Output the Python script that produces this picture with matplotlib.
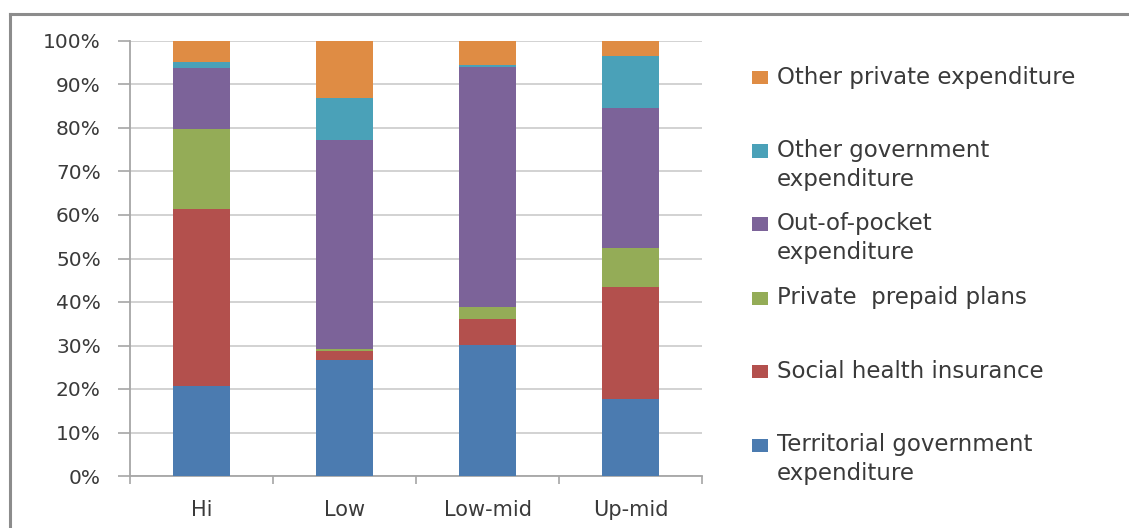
import matplotlib
matplotlib.use("Agg")
import matplotlib.pyplot as plt
from matplotlib.patches import Rectangle
from matplotlib.lines import Line2D
import numpy as np

categories = ["Hi", "Low", "Low-mid", "Up-mid"]
series_names = [
    "Territorial government\nexpenditure",
    "Social health insurance",
    "Private  prepaid plans",
    "Out-of-pocket\nexpenditure",
    "Other government\nexpenditure",
    "Other private expenditure",
]
territorial = [20.8, 26.7, 30.1, 17.8]
social = [40.6, 2.0, 6.1, 25.6]
private_prepaid = [18.4, 0.5, 2.7, 9.1]
out_of_pocket = [14.1, 48.0, 55.1, 32.0]
other_gov = [1.2, 9.6, 0.5, 12.1]
other_private = [4.9, 13.2, 5.5, 3.4]
yticks = [0, 10, 20, 30, 40, 50, 60, 70, 80, 90, 100]

series = [territorial, social, private_prepaid, out_of_pocket, other_gov, other_private]
colors = ["#4b7bb0", "#b3504d", "#94ac57", "#7c6399", "#4aa1b8", "#df8c44"]

plt.rcParams['font.family'] = ['DejaVu Sans']
text_color = "#3a3a3a"

fig = plt.figure(figsize=(11.29, 5.28), dpi=100)
ax = fig.add_axes([130/1129, 1-476/528, (702-130)/1129, (476-41)/528])

x = np.arange(len(categories))
bottom = np.zeros(len(categories))
for vals, c in zip(series, colors):
    vals = np.array(vals)
    ax.bar(x, vals, width=0.4, bottom=bottom, color=c, zorder=3, linewidth=0)
    bottom += vals

ax.set_xlim(-0.5, len(categories) - 0.5)
ax.set_ylim(0, 100)
ax.set_yticks(yticks)
ax.set_yticklabels([f"{v}%" for v in yticks], fontsize=14.5, color=text_color)
ax.yaxis.grid(True, color="#cfcfcf", linewidth=1.3, zorder=0)
ax.set_axisbelow(True)

ax.set_xticks(x)
ax.set_xticklabels(categories, fontsize=15, color=text_color)
ax.set_xticks(np.arange(-0.5, len(categories)), minor=True)
ax.tick_params(axis='x', which='major', length=0, pad=17)
ax.tick_params(axis='x', which='minor', length=6, width=1.2, color="#a6a6a6", direction='out')
ax.tick_params(axis='y', length=9, width=1.2, color="#a6a6a6", pad=12, direction='out')

for s in ["top", "right"]:
    ax.spines[s].set_visible(False)
for s in ["left", "bottom"]:
    ax.spines[s].set_color("#a6a6a6")
    ax.spines[s].set_linewidth(1.3)

# legend drawn manually to match first-line alignment
W, H = 1129, 528
legend_entries = [
    (5, 77.7),
    (4, 151),
    (3, 224),
    (2, 298),
    (1, 371.7),
    (0, 445),
]
for idx, ypix in legend_entries:
    fig.patches.append(Rectangle((752/W, 1-(ypix+6.5)/H), 16/W, 13/H,
                                 transform=fig.transFigure, facecolor=colors[idx],
                                 edgecolor='none'))
    fig.text(777/W, 1-(ypix-12)/H, series_names[idx], fontsize=16.5, color=text_color,
             ha='left', va='top', linespacing=1.35)

# outer border
fig.add_artist(Line2D([9.5/W, 9.5/W], [0, 1-13.5/H], transform=fig.transFigure,
                      color="#8c8c8c", linewidth=2.2))
fig.add_artist(Line2D([9.5/W, 1], [1-13.5/H, 1-13.5/H], transform=fig.transFigure,
                      color="#8c8c8c", linewidth=2.2))

fig.savefig("out.png", dpi=100)
